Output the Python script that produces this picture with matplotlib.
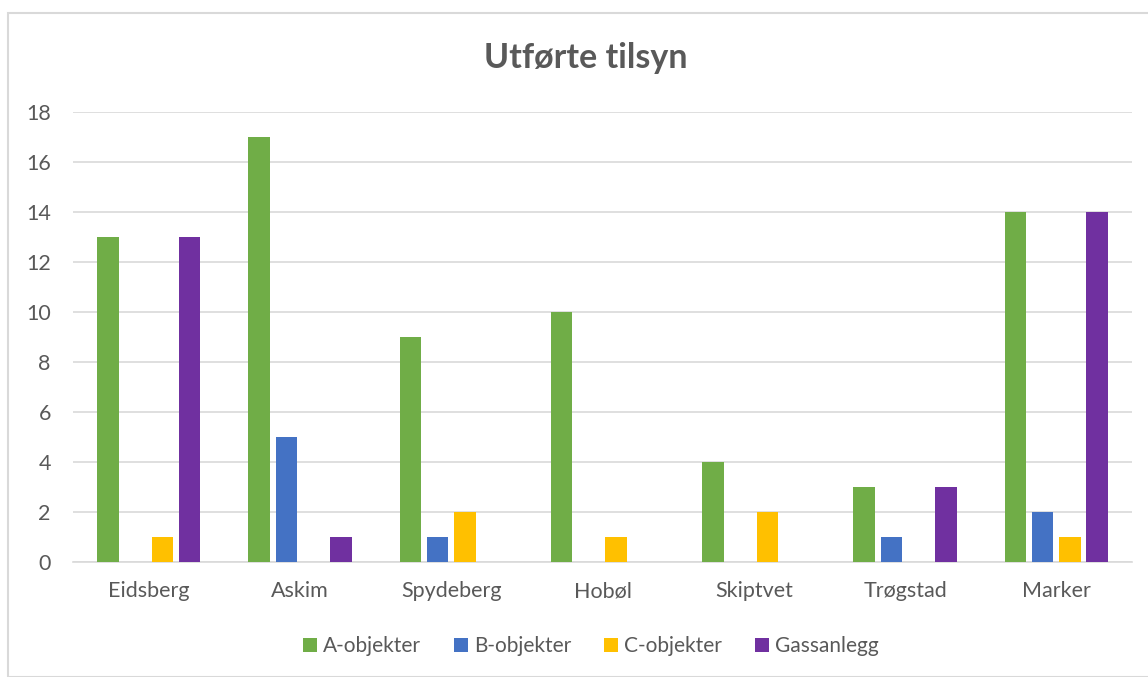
import matplotlib
matplotlib.use("Agg")
import matplotlib.pyplot as plt
import numpy as np
from matplotlib.patches import Rectangle

plt.rcParams['font.family'] = ['Lato', 'DejaVu Sans']

kommuner = ["Eidsberg", "Askim", "Spydeberg", "Hobøl", "Skiptvet", "Trøgstad", "Marker"]
a_objekter = [13, 17, 9, 10, 4, 3, 14]
b_objekter = [0, 5, 1, 0, 0, 1, 2]
c_objekter = [1, 0, 2, 1, 2, 0, 1]
gassanlegg = [13, 1, 0, 0, 0, 3, 14]

serier = ["A-objekter", "B-objekter", "C-objekter", "Gassanlegg"]
farger = ["#70AD47", "#4472C4", "#FFC000", "#7030A0"]
tekstfarge = "#595959"

fig = plt.figure(figsize=(11.48, 6.77), dpi=100)
fig.patches.append(Rectangle((8 / 1148, 0), 1.2, 1 - 13 / 677, transform=fig.transFigure,
                             fill=False, edgecolor="#D9D9D9", linewidth=1.5))

ax = fig.add_axes([73 / 1148, 1 - 562 / 677, (1132 - 73) / 1148, 450 / 677])

x = np.arange(len(kommuner))
steg = 0.18
bredde = 0.142
for i, (verdier, navn, farge) in enumerate(zip([a_objekter, b_objekter, c_objekter, gassanlegg], serier, farger)):
    ax.bar(x + (i - 1.5) * steg, verdier, width=bredde, color=farge, label=navn, zorder=3)

ax.set_xlim(-0.5, len(kommuner) - 0.5)
ax.set_ylim(0, 18)
ax.set_yticks(range(0, 19, 2))
ax.set_xticks(x)
ax.set_xticklabels(kommuner)
ax.tick_params(axis="both", length=0, labelsize=15.5, colors=tekstfarge)
ax.tick_params(axis="x", pad=14)
ax.tick_params(axis="y", pad=16)
ax.grid(axis="y", color="#D9D9D9", linewidth=1.2, zorder=0)
for s in ["top", "right", "left"]:
    ax.spines[s].set_visible(False)
ax.spines["bottom"].set_color("#D9D9D9")
ax.spines["bottom"].set_linewidth(1.2)

fig.text(586 / 1148, 1 - 58 / 677, "Utførte tilsyn", ha="center", va="center",
         fontsize=24.5, fontweight="bold", color=tekstfarge)

fig.legend(loc="center", bbox_to_anchor=(591 / 1148, 1 - 646 / 677), ncol=4, frameon=False,
           fontsize=15, labelcolor=tekstfarge, handlelength=0.65, handleheight=0.65,
           handletextpad=0.3, columnspacing=1.6)

fig.savefig("out.png", dpi=100)
